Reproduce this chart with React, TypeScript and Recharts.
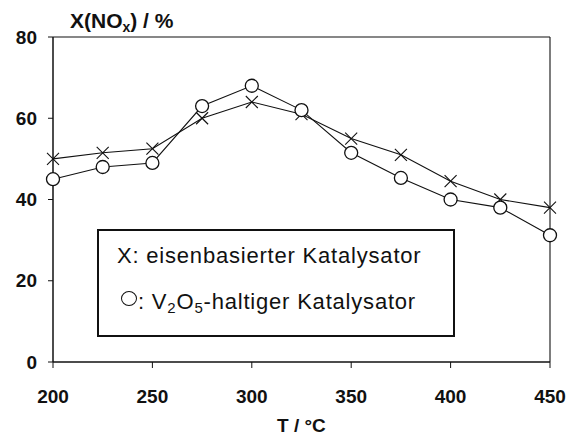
import React from "react";
import {
  LineChart,
  Line,
  XAxis,
  YAxis,
  ReferenceLine,
} from "recharts";

const temps = [200, 225, 250, 275, 300, 325, 350, 375, 400, 425, 450];
const ironCat = [50, 51.5, 52.5, 60, 64, 61, 55, 51, 44.5, 40, 38];
const vanadiumCat = [45, 48, 49, 63, 68, 62, 51.5, 45.3, 40, 38, 31.2];
const xTicks = [200, 250, 300, 350, 400, 450];
const yTicks = [0, 20, 40, 60, 80];

const data = temps.map((t, i) => ({ t, iron: ironCat[i], vana: vanadiumCat[i] }));

const FONT = "'Liberation Sans', Arial, sans-serif";

const CrossDot = (props: any) => {
  const { cx, cy } = props;
  if (cx == null || cy == null) return null;
  const s = 6;
  return (
    <g stroke="#111" strokeWidth={1.1}>
      <line x1={cx - s} y1={cy - s} x2={cx + s} y2={cy + s} />
      <line x1={cx - s} y1={cy + s} x2={cx + s} y2={cy - s} />
    </g>
  );
};

const CircleDot = (props: any) => {
  const { cx, cy } = props;
  if (cx == null || cy == null) return null;
  return <circle cx={cx} cy={cy} r={6.5} fill="#fff" stroke="#111" strokeWidth={1.3} />;
};

const tickStyle = { fontFamily: FONT, fontSize: 19, fontWeight: 700, fill: "#111" };

export default function App() {
  return (
    <div style={{ position: "absolute", left: 0, top: 0, width: 581, height: 435, background: "#fff" }}>
      <LineChart
        width={581}
        height={435}
        data={data}
        margin={{ top: 37, right: 31, bottom: 43, left: 8 }}
      >
        <XAxis
          dataKey="t"
          type="number"
          domain={[200, 450]}
          ticks={xTicks}
          tick={tickStyle}
          tickLine={{ stroke: "#111" }}
          tickSize={6}
          tickMargin={22}
          axisLine={{ stroke: "#111", strokeWidth: 1.5 }}
          height={30}
        />
        <YAxis
          type="number"
          domain={[0, 80]}
          ticks={yTicks}
          tick={tickStyle}
          tickLine={{ stroke: "#111" }}
          tickSize={5}
          tickMargin={11}
          axisLine={{ stroke: "#111", strokeWidth: 1.5 }}
          width={45}
        />
        <ReferenceLine y={80} stroke="#111" strokeWidth={1.1} />
        <ReferenceLine x={450} stroke="#111" strokeWidth={1.1} />
        <Line
          dataKey="iron"
          stroke="#111"
          strokeWidth={1.1}
          dot={<CrossDot />}
          activeDot={false}
          isAnimationActive={false}
        />
        <Line
          dataKey="vana"
          stroke="#111"
          strokeWidth={1.1}
          dot={<CircleDot />}
          activeDot={false}
          isAnimationActive={false}
        />
      </LineChart>

      <div
        style={{
          position: "absolute",
          left: 70,
          top: 6,
          fontFamily: FONT,
          fontWeight: 700,
          fontSize: 21,
          color: "#111",
          whiteSpace: "nowrap",
          lineHeight: "30px",
        }}
      >
        X(NO<sub style={{ fontSize: 14, verticalAlign: "-4px" }}>x</sub>) / %
      </div>

      <div
        style={{
          position: "absolute",
          left: 277,
          top: 414,
          fontFamily: FONT,
          fontWeight: 700,
          fontSize: 19,
          color: "#111",
          whiteSpace: "nowrap",
          lineHeight: "24px",
        }}
      >
        T / °C
      </div>

      <div
        style={{
          position: "absolute",
          left: 97,
          top: 229,
          width: 358,
          height: 108,
          border: "2px solid #111",
          boxSizing: "border-box",
          background: "#fff",
          fontFamily: FONT,
          fontSize: 22,
          color: "#111",
          lineHeight: "26px",
        }}
      >
        <div style={{ position: "absolute", left: 18, top: 12, whiteSpace: "nowrap", letterSpacing: 0.8 }}>
          X: eisenbasierter Katalysator
        </div>
        <div style={{ position: "absolute", left: 22, top: 58, whiteSpace: "nowrap", letterSpacing: 0.8 }}>
          <span
            style={{
              display: "inline-block",
              width: 16,
              height: 15,
              borderRadius: "50%",
              border: "1.3px solid #111",
              verticalAlign: "3px",
              marginRight: 1,
              boxSizing: "border-box",
            }}
          />
          : V<sub style={{ fontSize: 15, verticalAlign: "-4px" }}>2</sub>O
          <sub style={{ fontSize: 15, verticalAlign: "-4px" }}>5</sub>-haltiger Katalysator
        </div>
      </div>
    </div>
  );
}
